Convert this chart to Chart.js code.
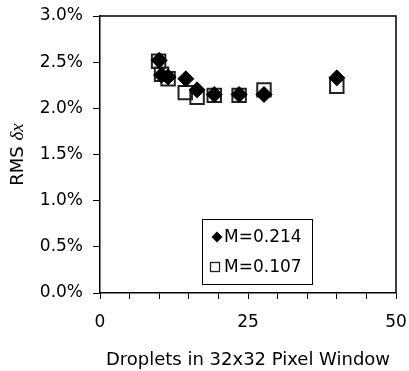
<!DOCTYPE html>
<html>
<head>
<meta charset="utf-8">
<script src="https://cdn.jsdelivr.net/npm/chart.js@4/dist/chart.umd.min.js"></script>
<style>
  html, body { margin: 0; padding: 0; background: #fff; }
  #wrap { width: 409px; height: 371px; }
</style>
</head>
<body>
<div id="wrap"><canvas id="c" width="409" height="371"></canvas></div>
<script>
// Droplet counts per 32x32 window and RMS displacement error (percent)
const dropletsM214 = [10.0, 10.4, 11.5, 14.5, 16.4, 19.3, 23.5, 27.7, 40.0];
const rmsM214      = [2.52, 2.36, 2.34, 2.32, 2.20, 2.15, 2.15, 2.15, 2.33];
const dropletsM107 = [9.9, 10.4, 11.5, 14.4, 16.4, 19.3, 23.5, 27.7, 40.0];
const rmsM107      = [2.51, 2.37, 2.32, 2.17, 2.12, 2.14, 2.14, 2.20, 2.24];
const seriesLabels = ['M=0.214', 'M=0.107'];
const xTickLabels  = [0, 25, 50];
const yTickLabels  = [0, 0.5, 1.0, 1.5, 2.0, 2.5, 3.0];
const xTitle = 'Droplets in 32x32 Pixel Window';
const yTitleMain = 'RMS ';
const yTitleMath = '\u03B4x';

const SANS = '"DejaVu Sans", "Liberation Sans", sans-serif';

const toPoints = (xs, ys) => xs.map((x, i) => ({ x: x, y: ys[i] }));

// Closed frame on the top and right sides of the plot area
const framePlugin = {
  id: 'frame',
  afterDraw(chart) {
    const { ctx, chartArea: a } = chart;
    ctx.save();
    ctx.strokeStyle = '#000';
    ctx.lineWidth = 1.5;
    ctx.beginPath();
    ctx.moveTo(a.left, a.top);
    ctx.lineTo(a.right, a.top);
    ctx.lineTo(a.right, a.bottom);
    ctx.stroke();
    ctx.restore();
  }
};

// Vertical axis title with an italic math symbol
const yTitlePlugin = {
  id: 'yTitle',
  afterDraw(chart) {
    const { ctx, chartArea: a } = chart;
    const fMain = '18px ' + SANS;
    const fMath = 'italic 19px "Liberation Serif", "DejaVu Serif", serif';
    ctx.save();
    ctx.font = fMain;
    const w1 = ctx.measureText(yTitleMain).width;
    ctx.font = fMath;
    const w2 = ctx.measureText(yTitleMath).width;
    const cy = (a.top + a.bottom) / 2;
    ctx.translate(23, cy);
    ctx.rotate(-Math.PI / 2);
    ctx.fillStyle = '#000';
    ctx.textBaseline = 'alphabetic';
    ctx.textAlign = 'left';
    const start = -(w1 + w2) / 2;
    ctx.font = fMain;
    ctx.fillText(yTitleMain, start, 0);
    ctx.font = fMath;
    ctx.fillText(yTitleMath, start + w1, 0);
    ctx.restore();
  }
};

// Boxed legend placed inside the plot area
const boxLegendPlugin = {
  id: 'boxLegend',
  afterDraw(chart) {
    const { ctx, chartArea: a } = chart;
    const bx = a.left + 102, by = a.top + 203, bw = 110, bh = 65;
    ctx.save();
    ctx.strokeStyle = '#000';
    ctx.lineWidth = 1;
    ctx.strokeRect(bx + 0.5, by + 0.5, bw, bh);
    ctx.font = '17px ' + SANS;
    ctx.fillStyle = '#000';
    ctx.textBaseline = 'alphabetic';
    // diamond
    const dx = bx + 15, dy = by + 18, r = 5.5;
    ctx.beginPath();
    ctx.moveTo(dx - r, dy); ctx.lineTo(dx, dy - r); ctx.lineTo(dx + r, dy); ctx.lineTo(dx, dy + r);
    ctx.closePath();
    ctx.fill();
    ctx.fillText(seriesLabels[0], bx + 22, by + 23);
    // open square
    const sx = bx + 13, sy = by + 48, s = 9;
    ctx.lineWidth = 1.3;
    ctx.strokeStyle = '#222';
    ctx.strokeRect(sx - s / 2, sy - s / 2, s, s);
    ctx.fillText(seriesLabels[1], bx + 22, by + 53);
    ctx.restore();
  }
};

new Chart(document.getElementById('c'), {
  type: 'scatter',
  data: {
    datasets: [
      {
        label: seriesLabels[0],
        data: toPoints(dropletsM214, rmsM214),
        pointStyle: 'rectRot',
        pointRadius: 8,
        pointBackgroundColor: '#000',
        pointBorderColor: '#000',
        pointBorderWidth: 1
      },
      {
        label: seriesLabels[1],
        data: toPoints(dropletsM107, rmsM107),
        pointStyle: 'rect',
        pointRadius: 9.5,
        pointBackgroundColor: 'rgba(255,255,255,0)',
        pointBorderColor: '#222',
        pointBorderWidth: 2
      }
    ]
  },
  options: {
    responsive: false,
    animation: false,
    events: [],
    layout: { padding: { top: 16, right: 13, left: 0, bottom: 0 } },
    plugins: {
      legend: { display: false },
      tooltip: { enabled: false }
    },
    scales: {
      x: {
        type: 'linear',
        min: xTickLabels[0],
        max: xTickLabels[xTickLabels.length - 1],
        afterFit(scale) {
          scale.height = 78;
          scale.paddingLeft = 0;
          scale.paddingRight = 0;
        },
        afterBuildTicks(scale) {
          const t = [];
          for (let v = scale.min; v <= scale.max; v += 5) t.push({ value: v });
          scale.ticks = t;
        },
        ticks: {
          autoSkip: false,
          maxRotation: 0,
          padding: 13,
          color: '#000',
          font: { family: SANS, size: 17 },
          callback: (v) => xTickLabels.includes(v) ? String(v) : ''
        },
        grid: { drawOnChartArea: false, drawTicks: true, tickLength: 6, color: '#000', lineWidth: 1 },
        border: { display: true, color: '#000', width: 1.5 },
        title: {
          display: true,
          text: xTitle,
          color: '#000',
          font: { family: SANS, size: 18 },
          padding: { top: 8, bottom: 0 }
        }
      },
      y: {
        type: 'linear',
        min: yTickLabels[0],
        max: yTickLabels[yTickLabels.length - 1],
        afterFit(scale) {
          scale.width = 100;
          scale.paddingTop = 0;
          scale.paddingBottom = 0;
        },
        afterBuildTicks(scale) {
          scale.ticks = yTickLabels.map(v => ({ value: v }));
        },
        ticks: {
          padding: 10,
          color: '#000',
          font: { family: SANS, size: 17 },
          callback: (v) => Number(v).toFixed(1) + '%'
        },
        grid: { drawOnChartArea: false, drawTicks: true, tickLength: 7, color: '#000', lineWidth: 1 },
        border: { display: true, color: '#000', width: 1.5 },
        title: { display: false }
      }
    }
  },
  plugins: [framePlugin, yTitlePlugin, boxLegendPlugin]
});
</script>
</body>
</html>
